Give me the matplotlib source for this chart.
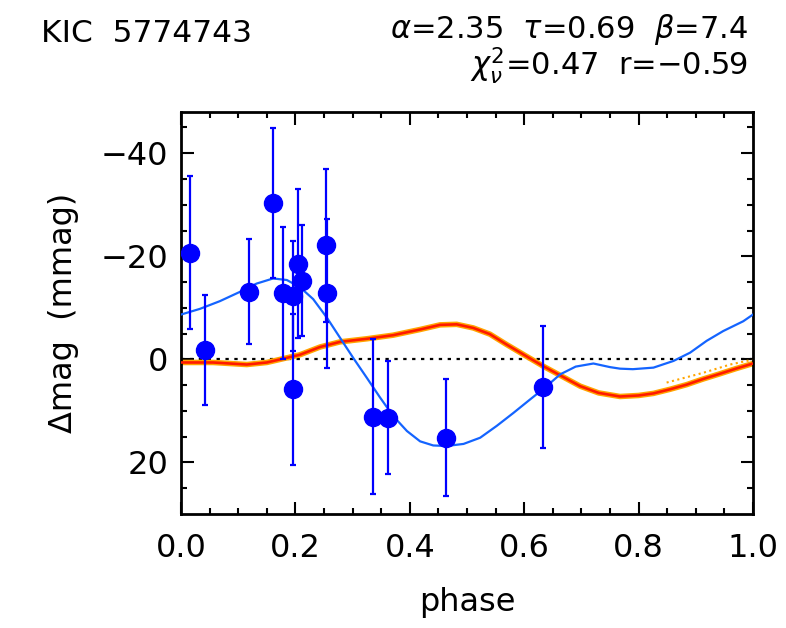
import numpy as np
import matplotlib
matplotlib.use("Agg")
import matplotlib.pyplot as plt

# observed points (phase, delta mag in mmag, 1-sigma error)
phase = [0.016, 0.042, 0.119, 0.161, 0.179, 0.195, 0.196, 0.204, 0.211,
         0.253, 0.255, 0.335, 0.362, 0.463, 0.633]
dmag = [-20.7, -1.8, -13.1, -30.3, -12.8, -12.3, 5.8, -18.6, -15.3,
        -22.1, -12.8, 11.1, 11.3, 15.2, 5.3]
dmag_err = [14.9, 10.7, 10.2, 14.5, 12.8, 10.6, 14.7, 14.4, 10.8,
            14.8, 14.5, 15.0, 10.9, 11.4, 11.8]

# blue model curve
fit_phase = [0.0, 0.033, 0.068, 0.103, 0.132, 0.161, 0.185, 0.208, 0.231, 0.255,
             0.278, 0.301, 0.325, 0.348, 0.371, 0.395, 0.418, 0.441, 0.4645, 0.494,
             0.523, 0.552, 0.581, 0.610, 0.636, 0.663, 0.69, 0.721, 0.75, 0.7675,
             0.79, 0.826, 0.861, 0.89, 0.919, 0.948, 0.983, 1.0]
fit_dmag = [-8.7, -9.8, -11.3, -13.1, -14.7, -15.7, -15.4, -14.0, -11.7, -8.1,
            -4.2, -0.3, 3.6, 7.4, 11.0, 13.9, 15.9, 16.7, 16.8, 16.4,
            15.2, 12.9, 10.4, 7.8, 5.5, 2.9, 1.4, 0.8, 1.5, 1.8,
            1.9, 1.6, 0.3, -1.3, -3.6, -5.5, -7.4, -8.7]

# red/orange reference curve
ref_phase = [0.0, 0.056, 0.115, 0.15, 0.185, 0.208, 0.243, 0.278, 0.325, 0.371,
             0.418, 0.453, 0.482, 0.511, 0.540, 0.569, 0.604, 0.633, 0.663, 0.698,
             0.73, 0.7675, 0.80, 0.826, 0.855, 0.884, 0.913, 0.942, 0.97, 1.0]
ref_dmag = [0.6, 0.6, 1.0, 0.6, -0.3, -0.9, -2.4, -3.4, -4.0, -4.7,
            -5.8, -6.7, -6.8, -6.1, -4.9, -2.9, -0.6, 1.3, 3.1, 5.2,
            6.5, 7.2, 7.0, 6.6, 5.8, 4.9, 3.8, 2.8, 1.8, 0.8]

# stray orange segment near the end
stray_phase = [0.849, 0.913, 0.96, 0.989, 1.0]
stray_dmag = [4.5, 2.6, 1.0, 0.3, 0.1]

fig = plt.figure(figsize=(7.86, 6.28), dpi=100)
ax = fig.add_axes([0.2303, 0.1815, 0.958 - 0.2303, 0.8217 - 0.1815])

ax.axhline(0, color='black', lw=1.6, linestyle=(0, (1.5, 2.5)), zorder=1)
ax.plot(ref_phase, ref_dmag, color='#ffa500', lw=4.0, zorder=2)
ax.plot(stray_phase, stray_dmag, color='#ffa500', lw=1.5, linestyle=':', zorder=2)
ax.plot(ref_phase, ref_dmag, color='#ff1a00', lw=1.9, zorder=3)
ax.plot(fit_phase, fit_dmag, color='#1464ff', lw=1.6, zorder=4)
ax.errorbar(phase, dmag, yerr=dmag_err, fmt='o', color='#0000ff', ms=13,
            elinewidth=1.6, capsize=2.5, capthick=1.6, zorder=5)

ax.set_xlim(0, 1)
ax.set_ylim(30, -48)
ax.set_xticks([0.0, 0.2, 0.4, 0.6, 0.8, 1.0])
ax.set_xticks(np.arange(0, 1.0001, 0.05), minor=True)
ax.set_yticks([-40, -20, 0, 20])
ax.set_yticks(np.arange(-45, 30, 5), minor=True)
ax.set_xticklabels(['0.0', '0.2', '0.4', '0.6', '0.8', '1.0'])
ax.set_yticklabels(['\u221240', '\u221220', '0', '20'])

ax.tick_params(which='both', direction='in', top=True, right=True, width=1.5)
ax.tick_params(which='major', length=9, labelsize=23)
ax.tick_params(which='minor', length=4.5)
ax.tick_params(axis='x', pad=14)
ax.tick_params(axis='y', pad=9)
for s in ax.spines.values():
    s.set_linewidth(2)

ax.set_xlabel('phase', fontsize=23, labelpad=16)
ax.set_ylabel('\u0394mag  (mmag)', fontsize=23, labelpad=16)

fig.text(0.052, 0.9330, 'KIC  5774743', fontsize=22.5, ha='left', va='baseline')
fig.text(0.952, 0.9400, r'$\alpha$=2.35  $\tau$=0.69  $\beta$=7.4',
         fontsize=22, ha='right', va='baseline')
fig.text(0.952, 0.8800, r'$\chi^2_\nu$=0.47  r=$-$0.59',
         fontsize=22, ha='right', va='baseline')

fig.savefig('out.png', dpi=100, facecolor='white')
